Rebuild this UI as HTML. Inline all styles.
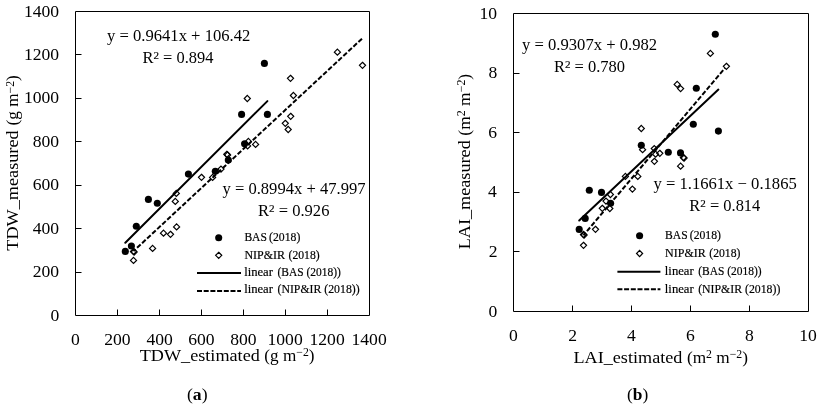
<!DOCTYPE html>
<html><head><meta charset="utf-8"><style>
html,body{margin:0;padding:0;background:#fff;}
svg{display:block;will-change:transform;}
text{font-family:"Liberation Serif",serif;fill:#000;}
</style></head><body>
<svg width="822" height="411" viewBox="0 0 822 411">
<rect width="822" height="411" fill="#fff"/>
<path d="M75.5 11.5H369.5V315.5H75.5ZM117.5 315.5V309.5M75.5 272.5H81.5M159.5 315.5V309.5M75.5 228.5H81.5M201.5 315.5V309.5M75.5 185.5H81.5M243.5 315.5V309.5M75.5 141.5H81.5M285.5 315.5V309.5M75.5 98.5H81.5M327.5 315.5V309.5M75.5 54.5H81.5" fill="none" stroke="#000" stroke-width="1"/>
<path d="M513.5 13.5H808.5V311.5H513.5ZM572.5 311.5V305.5M513.5 251.5H519.5M631.5 311.5V305.5M513.5 192.5H519.5M690.5 311.5V305.5M513.5 132.5H519.5M749.5 311.5V305.5M513.5 73.5H519.5" fill="none" stroke="#000" stroke-width="1"/>
<text transform="translate(50.40 320.50)" font-size="17.6">0</text>
<text transform="translate(71.12 344.90)" font-size="17.6">0</text>
<text transform="translate(32.65 277.07)" font-size="17.6">200</text>
<text transform="translate(104.25 344.90)" font-size="17.6">200</text>
<text transform="translate(32.65 233.64)" font-size="17.6">400</text>
<text transform="translate(146.50 344.90)" font-size="17.6">400</text>
<text transform="translate(32.65 190.21)" font-size="17.6">600</text>
<text transform="translate(188.25 344.90)" font-size="17.6">600</text>
<text transform="translate(32.65 146.79)" font-size="17.6">800</text>
<text transform="translate(230.25 344.90)" font-size="17.6">800</text>
<text transform="translate(23.90 103.36)" font-size="17.6">1000</text>
<text transform="translate(267.50 344.90)" font-size="17.6">1000</text>
<text transform="translate(23.90 59.93)" font-size="17.6">1200</text>
<text transform="translate(309.50 344.90)" font-size="17.6">1200</text>
<text transform="translate(23.90 16.50)" font-size="17.6">1400</text>
<text transform="translate(351.50 344.90)" font-size="17.6">1400</text>
<text transform="translate(488.40 316.50)" font-size="17.6">0</text>
<text transform="translate(509.12 340.80)" font-size="17.6">0</text>
<text transform="translate(488.65 256.90)" font-size="17.6">2</text>
<text transform="translate(568.25 340.80)" font-size="17.6">2</text>
<text transform="translate(487.90 197.30)" font-size="17.6">4</text>
<text transform="translate(627.12 340.80)" font-size="17.6">4</text>
<text transform="translate(488.15 137.70)" font-size="17.6">6</text>
<text transform="translate(686.00 340.80)" font-size="17.6">6</text>
<text transform="translate(488.40 78.10)" font-size="17.6">8</text>
<text transform="translate(745.12 340.80)" font-size="17.6">8</text>
<text transform="translate(479.40 18.50)" font-size="17.6">10</text>
<text transform="translate(799.25 340.80)" font-size="17.6">10</text>
<text transform="translate(139.74 360.80) scale(1.0386 1)" font-size="17.5">TDW_estimated</text>
<text transform="translate(264.36 360.80) scale(0.9809 1)" font-size="17.5">(g m<tspan dy="-4.8" font-size="12.0">−2</tspan><tspan dy="4.8">)</tspan></text>
<text transform="translate(573.48 362.90) scale(1.0379 1)" font-size="17.5">LAI_estimated</text>
<text transform="translate(686.91 362.90) scale(0.9860 1)" font-size="17.5">(m<tspan dy="-4.8" font-size="12.0">2</tspan><tspan dy="4.8"> m</tspan><tspan dy="-4.8" font-size="12.0">−2</tspan><tspan dy="4.8">)</tspan></text>
<text transform="translate(18.30 250.66) rotate(-90) scale(1.0403 1)" font-size="17.5">TDW_measured</text>
<text transform="translate(18.30 125.44) rotate(-90) scale(0.9809 1)" font-size="17.5">(g m<tspan dy="-4.8" font-size="12.0">−2</tspan><tspan dy="4.8">)</tspan></text>
<text transform="translate(470.10 249.32) rotate(-90) scale(1.0398 1)" font-size="17.5">LAI_measured</text>
<text transform="translate(470.10 135.65) rotate(-90) scale(0.9967 1)" font-size="17.5">(m<tspan dy="-4.8" font-size="12.0">2</tspan><tspan dy="4.8"> m</tspan><tspan dy="-4.8" font-size="12.0">−2</tspan><tspan dy="4.8">)</tspan></text>
<text transform="translate(106.94 41.00) scale(1.0205 1)" font-size="16.3">y = 0.9641x + 106.42</text>
<text transform="translate(142.50 62.80) scale(1.0086 1)" font-size="16.3">R<tspan dy="-4.3" font-size="11.0" stroke="#000" stroke-width="0.15">2</tspan><tspan dy="4.3"> = 0.894</tspan></text>
<text transform="translate(222.45 193.60) scale(1.0175 1)" font-size="16.3">y = 0.8994x + 47.997</text>
<text transform="translate(257.99 215.80) scale(1.0152 1)" font-size="16.3">R<tspan dy="-4.3" font-size="11.0" stroke="#000" stroke-width="0.15">2</tspan><tspan dy="4.3"> = 0.926</tspan></text>
<text transform="translate(522.04 49.80) scale(1.0202 1)" font-size="16.3">y = 0.9307x + 0.982</text>
<text transform="translate(553.89 72.00) scale(1.0123 1)" font-size="16.3">R<tspan dy="-4.3" font-size="11.0" stroke="#000" stroke-width="0.15">2</tspan><tspan dy="4.3"> = 0.780</tspan></text>
<text transform="translate(653.45 188.80) scale(1.0194 1)" font-size="16.3">y = 1.1661x − 0.1865</text>
<text transform="translate(689.29 210.90) scale(1.0101 1)" font-size="16.3">R<tspan dy="-4.3" font-size="11.0" stroke="#000" stroke-width="0.15">2</tspan><tspan dy="4.3"> = 0.814</tspan></text>
<text transform="translate(244.38 240.80) scale(0.8640 1)" font-size="13.4" stroke="#000" stroke-width="0.2">BAS</text>
<text transform="translate(665.08 238.70) scale(0.8640 1)" font-size="13.4" stroke="#000" stroke-width="0.2">BAS</text>
<text transform="translate(269.06 240.80) scale(0.8748 1)" font-size="13.4" stroke="#000" stroke-width="0.2">(2018)</text>
<text transform="translate(689.76 238.70) scale(0.8748 1)" font-size="13.4" stroke="#000" stroke-width="0.2">(2018)</text>
<text transform="translate(244.38 258.80) scale(0.8972 1)" font-size="13.4" stroke="#000" stroke-width="0.2">NIP&amp;IR</text>
<text transform="translate(665.08 256.60) scale(0.8972 1)" font-size="13.4" stroke="#000" stroke-width="0.2">NIP&amp;IR</text>
<text transform="translate(288.56 258.80) scale(0.8719 1)" font-size="13.4" stroke="#000" stroke-width="0.2">(2018)</text>
<text transform="translate(709.26 256.60) scale(0.8719 1)" font-size="13.4" stroke="#000" stroke-width="0.2">(2018)</text>
<text transform="translate(244.16 275.90) scale(0.9455 1)" font-size="13.4" stroke="#000" stroke-width="0.2">linear</text>
<text transform="translate(664.86 274.70) scale(0.9455 1)" font-size="13.4" stroke="#000" stroke-width="0.2">linear</text>
<text transform="translate(277.47 275.90) scale(0.8562 1)" font-size="13.4" stroke="#000" stroke-width="0.2">(BAS (2018))</text>
<text transform="translate(698.17 274.70) scale(0.8562 1)" font-size="13.4" stroke="#000" stroke-width="0.2">(BAS (2018))</text>
<text transform="translate(244.16 293.40) scale(0.9455 1)" font-size="13.4" stroke="#000" stroke-width="0.2">linear</text>
<text transform="translate(664.86 292.60) scale(0.9455 1)" font-size="13.4" stroke="#000" stroke-width="0.2">linear</text>
<text transform="translate(277.46 293.40) scale(0.8813 1)" font-size="13.4" stroke="#000" stroke-width="0.2">(NIP&amp;IR (2018))</text>
<text transform="translate(698.16 292.60) scale(0.8813 1)" font-size="13.4" stroke="#000" stroke-width="0.2">(NIP&amp;IR (2018))</text>
<text transform="translate(186.92 399.70) scale(1.0411 1)" font-size="17">(<tspan font-weight="bold">a</tspan>)</text>
<text transform="translate(627.03 399.70) scale(1.0234 1)" font-size="17">(<tspan font-weight="bold">b</tspan>)</text>
<g fill="#000"><circle cx="125.3" cy="251.4" r="3.55"/><circle cx="131.4" cy="246.0" r="3.55"/><circle cx="136.3" cy="226.2" r="3.55"/><circle cx="148.4" cy="199.4" r="3.55"/><circle cx="157.3" cy="203.2" r="3.55"/><circle cx="188.4" cy="174.1" r="3.55"/><circle cx="215.3" cy="171.3" r="3.55"/><circle cx="228.3" cy="160.1" r="3.55"/><circle cx="241.6" cy="114.4" r="3.55"/><circle cx="244.6" cy="143.8" r="3.55"/><circle cx="264.4" cy="63.4" r="3.55"/><circle cx="267.4" cy="114.4" r="3.55"/><circle cx="579.2" cy="229.4" r="3.55"/><circle cx="585.2" cy="218.4" r="3.55"/><circle cx="589.3" cy="190.3" r="3.55"/><circle cx="601.5" cy="192.4" r="3.55"/><circle cx="610.6" cy="203.3" r="3.55"/><circle cx="641.3" cy="145.3" r="3.55"/><circle cx="668.3" cy="152.3" r="3.55"/><circle cx="680.5" cy="152.9" r="3.55"/><circle cx="693.3" cy="124.2" r="3.55"/><circle cx="696.3" cy="88.2" r="3.55"/><circle cx="715.3" cy="34.2" r="3.55"/><circle cx="718.4" cy="131.1" r="3.55"/></g>
<g fill="none" stroke="#000" stroke-width="1.2"><path d="M133.5 248.35L136.55 251.4L133.5 254.45L130.45 251.4Z"/><path d="M134.1 248.95L137.15 252.0L134.1 255.05L131.05 252.0Z"/><path d="M133.5 257.35L136.55 260.4L133.5 263.45L130.45 260.4Z"/><path d="M152.6 245.35L155.65 248.4L152.6 251.45L149.55 248.4Z"/><path d="M163.5 230.15L166.55 233.2L163.5 236.25L160.45 233.2Z"/><path d="M170.5 231.25L173.55 234.3L170.5 237.35L167.45 234.3Z"/><path d="M176.6 223.85L179.65 226.9L176.6 229.95L173.55 226.9Z"/><path d="M175.3 198.35L178.35 201.4L175.3 204.45L172.25 201.4Z"/><path d="M176.3 190.35L179.35 193.4L176.3 196.45L173.25 193.4Z"/><path d="M201.5 174.25L204.55 177.3L201.5 180.35L198.45 177.3Z"/><path d="M212.6 174.35L215.65 177.4L212.6 180.45L209.55 177.4Z"/><path d="M221.0 166.05L224.05 169.1L221.0 172.15L217.95 169.1Z"/><path d="M226.8 151.25L229.85 154.3L226.8 157.35L223.75 154.3Z"/><path d="M227.6 151.95L230.65 155.0L227.6 158.05L224.55 155.0Z"/><path d="M248.4 138.35L251.45 141.4L248.4 144.45L245.35 141.4Z"/><path d="M247.6 142.85L250.65 145.9L247.6 148.95L244.55 145.9Z"/><path d="M255.6 141.35L258.65 144.4L255.6 147.45L252.55 144.4Z"/><path d="M247.3 95.45L250.35 98.5L247.3 101.55L244.25 98.5Z"/><path d="M290.5 75.25L293.55 78.3L290.5 81.35L287.45 78.3Z"/><path d="M293.4 92.45L296.45 95.5L293.4 98.55L290.35 95.5Z"/><path d="M290.7 113.25L293.75 116.3L290.7 119.35L287.65 116.3Z"/><path d="M285.3 120.25L288.35 123.3L285.3 126.35L282.25 123.3Z"/><path d="M288.2 126.45L291.25 129.5L288.2 132.55L285.15 129.5Z"/><path d="M337.4 49.15L340.45 52.2L337.4 55.25L334.35 52.2Z"/><path d="M362.5 62.25L365.55 65.3L362.5 68.35L359.45 65.3Z"/><path d="M583.5 231.45L586.55 234.5L583.5 237.55L580.45 234.5Z"/><path d="M584.1 232.05L587.15 235.1L584.1 238.15L581.05 235.1Z"/><path d="M583.5 242.25L586.55 245.3L583.5 248.35L580.45 245.3Z"/><path d="M595.5 226.25L598.55 229.3L595.5 232.35L592.45 229.3Z"/><path d="M602.3 205.25L605.35 208.3L602.3 211.35L599.25 208.3Z"/><path d="M606.0 198.05L609.05 201.1L606.0 204.15L602.95 201.1Z"/><path d="M609.8 205.45L612.85 208.5L609.8 211.55L606.75 208.5Z"/><path d="M610.4 191.45L613.45 194.5L610.4 197.55L607.35 194.5Z"/><path d="M625.4 173.35L628.45 176.4L625.4 179.45L622.35 176.4Z"/><path d="M632.4 186.05L635.45 189.1L632.4 192.15L629.35 189.1Z"/><path d="M637.8 173.35L640.85 176.4L637.8 179.45L634.75 176.4Z"/><path d="M641.3 125.45L644.35 128.5L641.3 131.55L638.25 128.5Z"/><path d="M642.6 146.65L645.65 149.7L642.6 152.75L639.55 149.7Z"/><path d="M654.3 145.55L657.35 148.6L654.3 151.65L651.25 148.6Z"/><path d="M655.6 151.15L658.65 154.2L655.6 157.25L652.55 154.2Z"/><path d="M659.8 150.25L662.85 153.3L659.8 156.35L656.75 153.3Z"/><path d="M654.4 158.25L657.45 161.3L654.4 164.35L651.35 161.3Z"/><path d="M683.4 154.45L686.45 157.5L683.4 160.55L680.35 157.5Z"/><path d="M684.1 155.05L687.15 158.1L684.1 161.15L681.05 158.1Z"/><path d="M680.6 163.15L683.65 166.2L680.6 169.25L677.55 166.2Z"/><path d="M677.2 81.35L680.25 84.4L677.2 87.45L674.15 84.4Z"/><path d="M680.6 85.55L683.65 88.6L680.6 91.65L677.55 88.6Z"/><path d="M710.4 50.35L713.45 53.4L710.4 56.45L707.35 53.4Z"/><path d="M726.4 63.25L729.45 66.3L726.4 69.35L723.35 66.3Z"/></g>
<g stroke="#000" stroke-width="2" fill="none">
<line x1="125.30" y1="242.75" x2="267.40" y2="101.09" stroke-linecap="round"/>
<line x1="579.20" y1="220.47" x2="718.40" y2="89.60" stroke-linecap="round"/>
<line x1="133.50" y1="251.14" x2="362.50" y2="38.17" stroke-dasharray="4.85 2.02" stroke-dashoffset="2.0"/>
<line x1="583.50" y1="235.30" x2="725.00" y2="68.00" stroke-dasharray="4.85 2.02" stroke-dashoffset="1.5"/>
</g>
<circle cx="218.7" cy="237.8" r="3.55"/>
<g fill="none" stroke="#000" stroke-width="1.2"><path d="M218.7 252.25L221.75 255.3L218.7 258.35L215.65 255.3Z"/></g>
<line x1="197.0" y1="272.9" x2="241.0" y2="272.9" stroke="#000" stroke-width="2"/>
<line x1="197.0" y1="291.0" x2="241.0" y2="291.0" stroke="#000" stroke-width="2" stroke-dasharray="5 1.7"/>
<circle cx="639.6" cy="235.7" r="3.55"/>
<g fill="none" stroke="#000" stroke-width="1.2"><path d="M639.6 250.45L642.65 253.5L639.6 256.55L636.55 253.5Z"/></g>
<line x1="617.4" y1="271.8" x2="660.4" y2="271.8" stroke="#000" stroke-width="2"/>
<line x1="617.4" y1="289.3" x2="660.4" y2="289.3" stroke="#000" stroke-width="2" stroke-dasharray="5 1.7"/>
</svg></body></html>
